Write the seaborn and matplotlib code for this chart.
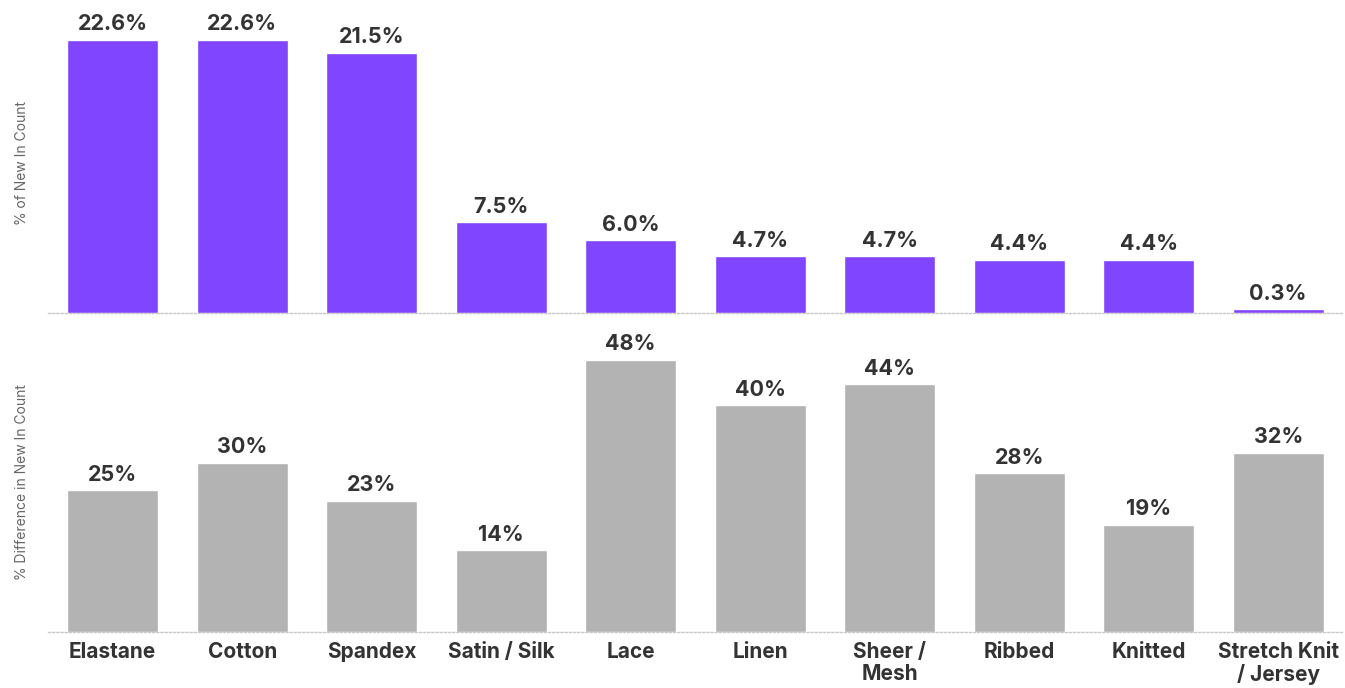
import matplotlib
matplotlib.use("Agg")
import matplotlib.pyplot as plt
import seaborn as sns
import pandas as pd

categories = ["Elastane", "Cotton", "Spandex", "Satin / Silk", "Lace", "Linen",
              "Sheer /\nMesh", "Ribbed", "Knitted", "Stretch Knit\n/ Jersey"]
share_new_in = [22.6, 22.6, 21.5, 7.5, 6.0, 4.7, 4.7, 4.4, 4.4, 0.3]
pct_difference = [25.0, 29.8, 23.1, 14.4, 48.0, 40.0, 43.7, 28.0, 18.9, 31.6]

PURPLE = "#8045FF"
GREY = "#B3B3B3"
TEXT = "#333333"

sns.set_style("white")
plt.rcParams["font.family"] = ["Inter", "DejaVu Sans"]

df = pd.DataFrame({"category": categories, "share": share_new_in, "diff": pct_difference})

fig = plt.figure(figsize=(13.45, 6.88), dpi=100)
ax_top = fig.add_axes([48 / 1345, 1 - 313 / 688, 1295 / 1345, 300 / 688])
ax_bot = fig.add_axes([48 / 1345, 1 - 632 / 688, 1295 / 1345, 300 / 688])

sns.barplot(data=df, x="category", y="share", color=PURPLE, width=0.7,
            saturation=1, ax=ax_top)
sns.barplot(data=df, x="category", y="diff", color=GREY, width=0.7,
            saturation=1, ax=ax_bot)

ax_top.set_ylim(0, 24.8)
ax_bot.set_ylim(0, 52.9)

for ax, vals, fmt in [(ax_top, share_new_in, "{:.1f}%"), (ax_bot, pct_difference, "{:.0f}%")]:
    for i, v in enumerate(vals):
        ax.annotate(fmt.format(v), (i, v), xytext=(0, 4), textcoords="offset points",
                    ha="center", va="bottom", fontsize=15.5, fontweight="bold", color=TEXT)
    ax.set_xlim(-0.5, len(categories) - 0.5)
    ax.set_yticks([])
    ax.set_xlabel("")
    for s in ["top", "right", "left"]:
        ax.spines[s].set_visible(False)
    ax.spines["bottom"].set_color("#C8C8C8")
    ax.spines["bottom"].set_linestyle((0, (1.5, 1.5)))
    ax.spines["bottom"].set_linewidth(1)
    ax.spines["bottom"].set_zorder(0)

ax_top.set_xticks([])
ax_top.set_ylabel("% of New In Count", fontsize=10, color="#666666", labelpad=14)
ax_bot.set_ylabel("% Difference in New In Count", fontsize=10, color="#666666", labelpad=14)
ax_bot.tick_params(axis="x", length=0, pad=7)
for lbl in ax_bot.get_xticklabels():
    lbl.set_fontsize(15)
    lbl.set_fontweight("bold")
    lbl.set_color(TEXT)
    lbl.set_linespacing(1.15)

fig.savefig("out.png", dpi=100)
